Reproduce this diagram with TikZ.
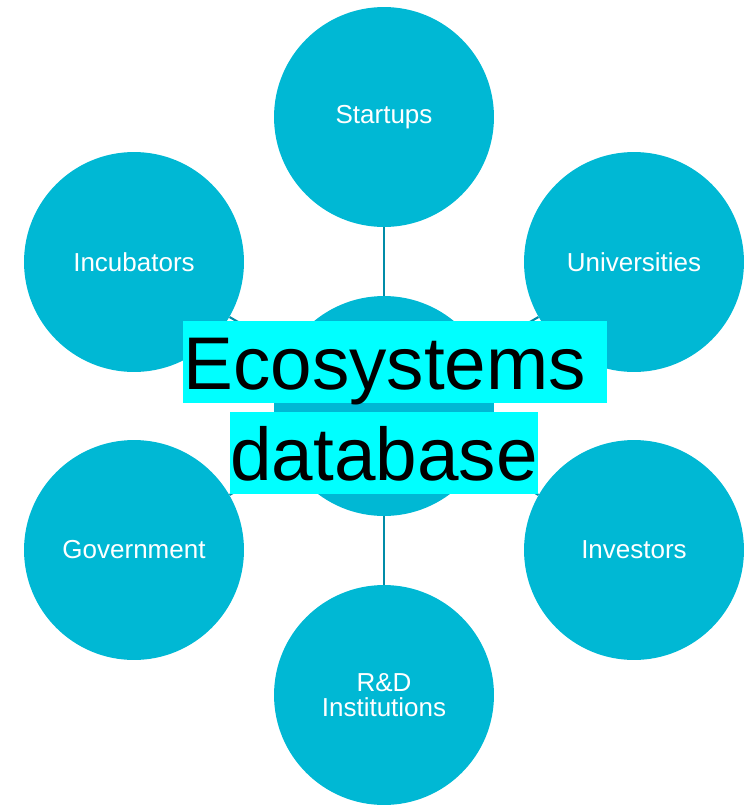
\documentclass[tikz,border=0pt]{standalone}
\usepackage{fontspec}
\setmainfont{Liberation Sans}
\usetikzlibrary{positioning}
\definecolor{mycircle}{RGB}{0,184,212}
\definecolor{myline}{RGB}{0,140,168}
\definecolor{myhl}{RGB}{0,255,255}

\begin{document}
\begin{tikzpicture}[x=0.02cm,y=-0.02cm,
  hub/.style={circle, fill=mycircle, minimum size=4.4cm, inner sep=0pt, text=white, align=center, font=\fontsize{14.8}{14.6}\selectfont},
  link/.style={myline, line width=1.2pt},
  hl/.style={fill=myhl, inner sep=0pt, text height=1.36cm, text depth=0.28cm, anchor=base west, font=\fontsize{42.5}{42.5}\selectfont}]
  \useasboundingbox (0,0) rectangle (744,805);
  % circles
  \node[hub] (eco) at (384,406) {};
  \node[hub] (startups) at (384,117) {Startups};
  \node[hub] (incub) at (134,262) {Incubators};
  \node[hub] (univ) at (634,262) {Universities};
  \node[hub] (gov) at (134,550) {Government};
  \node[hub] (invest) at (634,550) {Investors};
  \node[hub] (rnd) at (384,695) {R\&D\\Institutions};
  % links
  \foreach \n in {startups,incub,univ,gov,invest,rnd}
    \draw[link] (eco) -- (\n);
  % highlighted title
  \node[hl] (title1) at (183,389) {Ecosystems\kern0.28em};
  \node[hl] (title2) at (230,480) {database};
\end{tikzpicture}
\end{document}
